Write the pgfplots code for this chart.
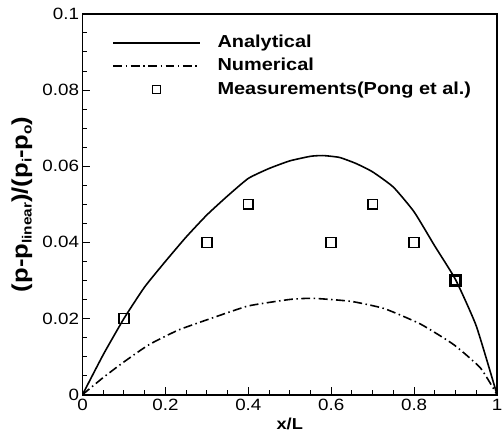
\documentclass[border=0pt]{standalone}
\usepackage{pgfplots}
\pgfplotsset{compat=1.18}
\usepackage{fontspec}
\setmainfont{Liberation Sans}[FakeStretch=1.15]

\pgfplotsset{
  long line legend/.style={legend image code/.code={\draw[##1] (0bp,0bp) -- (87bp,0bp);}},
  centred mark legend/.style={legend image code/.code={\draw[##1, mark size=4bp] plot coordinates {(43.5bp,0bp)};}},
}
\newcommand{\sub}[1]{{\fontsize{13.5}{13.5}\selectfont\raisebox{-4bp}{#1}}}

\begin{document}
\begin{tikzpicture}
\begin{axis}[
  scale only axis,
  width=417bp, height=383bp,
  xmin=0, xmax=1, ymin=0, ymax=0.1,
  xtick={0,0.2,0.4,0.6,0.8,1},
  xticklabels={0,0.2,0.4,0.6,0.8,1},
  ytick={0,0.02,0.04,0.06,0.08,0.1},
  yticklabels={0,0.02,0.04,0.06,0.08,0.1},
  minor x tick num=3, minor y tick num=3,
  tick pos=left, tick align=inside,
  major tick length=8bp, minor tick length=5bp,
  every tick/.style={black, line width=1bp},
  axis line style={line width=1.8bp},
  ticklabel style={font=\fontsize{16.5}{16.5}\selectfont},
  xticklabel style={yshift=-1bp},
  xlabel={\textbf{x/L}},
  ylabel={\textbf{(p-p\sub{linear})/(p\sub{i}-p\sub{o})}},
  every axis x label/.style={at={([yshift=-35bp]axis description cs:0.5,0)}, anchor=base,
    font=\fontsize{16}{16}\selectfont},
  every axis y label/.style={at={([xshift=-61bp]axis description cs:0,0.5)}, anchor=center,
    rotate=90, font=\fontsize{22.5}{22.5}\selectfont},
  legend style={draw=none, fill=none, inner sep=0pt, at={(axis cs:0.072,0.095)}, anchor=north west,
    font=\bfseries\fontsize{17.5}{17.5}\selectfont, row sep=4bp,
    nodes={inner sep=1bp, text height=13.5bp, text depth=4bp},
    /tikz/every odd column/.append style={column sep=16bp}},
  legend cell align=left,
]
% analytical solution
\addplot[black, line width=1.6bp, smooth, tension=0.3, long line legend]
  coordinates {
  (0,0) (0.05,0.0105) (0.1,0.0200) (0.15,0.0283) (0.2,0.0350) (0.25,0.0414)
  (0.3,0.0472) (0.35,0.0522) (0.4,0.0568) (0.45,0.0594) (0.5,0.0614)
  (0.55,0.0626) (0.58,0.0628) (0.62,0.0623) (0.66,0.0607) (0.7,0.0585)
  (0.75,0.0545) (0.8,0.0480) (0.85,0.0390) (0.9,0.0302) (0.95,0.0180) (1,0)
  };
\addlegendentry{Analytical}
% numerical solution
\addplot[black, line width=1.6bp, smooth, tension=0.3,
  dash pattern=on 9bp off 3.5bp on 1.5bp off 3.5bp, long line legend]
  coordinates {
  (0,0) (0.05,0.0045) (0.1,0.0086) (0.16,0.0131) (0.232,0.0170) (0.32,0.0204)
  (0.4,0.0233) (0.5,0.0250) (0.556,0.0253) (0.648,0.0245) (0.728,0.0226)
  (0.816,0.0185) (0.896,0.0131) (0.96,0.0070) (1,0)
  };
\addlegendentry{Numerical}
% experimental data
\addplot[only marks, mark=square, mark size=5bp, black, line width=1.6bp, centred mark legend]
  coordinates {
  (0.1,0.02) (0.3,0.04) (0.4,0.05) (0.6,0.04) (0.7,0.05) (0.8,0.04) (0.9,0.03)
  };
\addlegendentry{Measurements(Pong et al.)}
\addplot[only marks, mark=square, mark size=5bp, black, line width=2.6bp, forget plot]
  coordinates {(0.9,0.03)};
\end{axis}
% page extent, wide enough for the last tick label
\pgfresetboundingbox
\path[use as bounding box] (-83bp,-41bp) rectangle (423bp,397bp);
\end{tikzpicture}
\end{document}
